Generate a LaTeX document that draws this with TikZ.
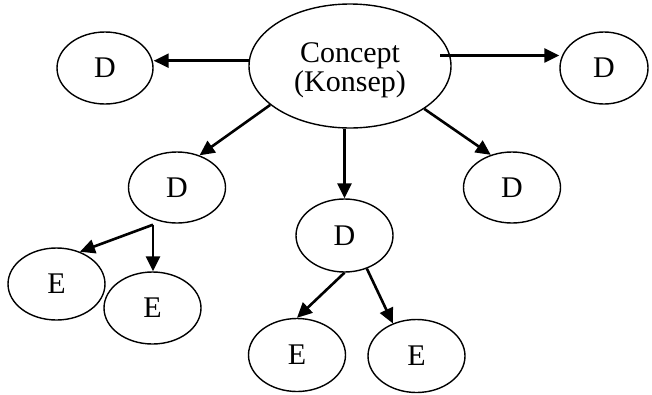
\documentclass[tikz,border=0pt]{standalone}
\usepackage{fontspec}
\setmainfont{Liberation Serif}
\usetikzlibrary{arrows.meta,shapes.geometric}
\begin{document}
\begin{tikzpicture}[x=1pt,y=-1pt,
  bub/.style={draw,ellipse,line width=1.4pt,inner sep=0pt,minimum width=97pt,minimum height=72pt,font=\fontsize{30}{29}\selectfont},
  arr/.style={line width=2.6pt,-{Triangle[length=15pt,width=14pt]}}]
\useasboundingbox (0,0) rectangle (652,394);
\node[bub,minimum width=202pt,minimum height=124pt,align=center,text height=58pt] (c) at (350,66) {Concept\\(Konsep)};
\node[bub,minimum width=96pt] (dl) at (105,68) {D};
\node[bub,minimum width=88pt] (dr) at (604,68) {D};
\node[bub,minimum height=71pt] (d1) at (177,187.5) {D};
\node[bub,minimum height=71pt] (d2) at (512,187.5) {D};
\node[bub,minimum height=73pt] (d3) at (344.5,235.5) {D};
\node[bub] (e1) at (56.5,284) {E};
\node[bub] (e2) at (152.5,308) {E};
\node[bub,minimum height=73pt] (e3) at (297,355) {E};
\node[bub,minimum height=73pt] (e4) at (416.5,356) {E};
\coordinate (s) at ([xshift=-24pt,yshift=-1pt]d1.south);
\draw[arr] (c.177) -- (c.177 -| dl.east);
\draw[arr] ([xshift=-10pt]c.6) -- (c.6 -| dr.west);
\draw[arr] (c.206) -- (d1.55);
\draw[arr] (c.330) -- (d2.123);
\draw[arr] (d3.north |- c.south) -- (d3.north);
\draw[arr] (d3.south) -- (e3.north);
\draw[arr] (d3.-56) -- (e4.126);
\draw[arr] (s) -- (e1.54);
\draw[arr] (s) -- (s |- e2.north);
\end{tikzpicture}
\end{document}
